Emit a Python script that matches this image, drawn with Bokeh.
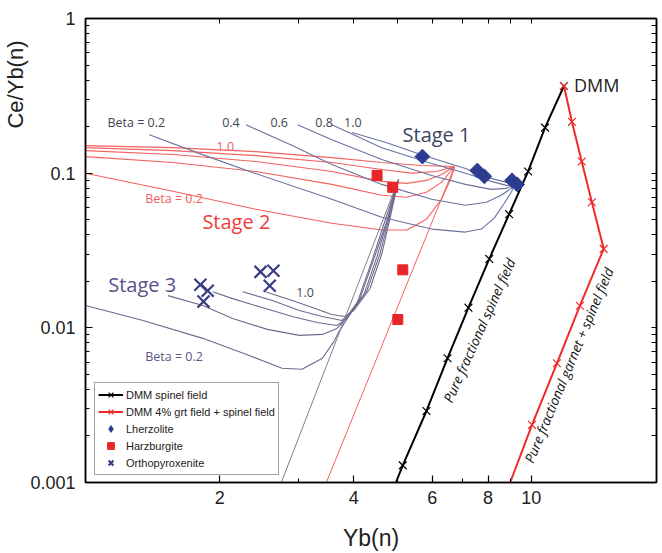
from math import pi
from bokeh.plotting import figure
from bokeh.models import (Range1d, LogAxis, FixedTicker, CustomJSTickFormatter,
                          Label, Legend, LegendItem, Title)
from bokeh.embed import file_html
from bokeh.resources import INLINE

# ---------------- data ----------------
x_tick_values = [2, 4, 6, 8, 10]
x_minor_values = [1, 3, 5, 7, 9]
y_tick_values = [0.001, 0.01, 0.1, 1]
y_minor_values = [m * d for d in (0.001, 0.01, 0.1) for m in range(2, 10)]

# DMM pure fractional melting, spinel field
dmm_spinel_x = [11.84, 10.74, 9.84, 8.92, 8.05, 7.23, 6.49, 5.82, 5.15, 4.97]
dmm_spinel_y = [0.366, 0.197, 0.1026, 0.0543, 0.0279, 0.0135, 0.00636, 0.0029, 0.00129, 0.001]
# DMM 4% garnet field + spinel field
dmm_garnet_x = [11.84, 12.34, 12.98, 13.68, 14.54, 12.86, 11.42, 10.04, 8.97]
dmm_garnet_y = [0.366, 0.2148, 0.1189, 0.0648, 0.0324, 0.0139, 0.0059, 0.00236, 0.001]

# samples
lherzolite_x = [5.70, 7.57, 7.85, 9.06, 9.30]
lherzolite_y = [0.128, 0.104, 0.0953, 0.0898, 0.0846]
harzburgite_x = [4.51, 4.89, 5.15, 5.02]
harzburgite_y = [0.0966, 0.081, 0.0237, 0.01132]
opx_x = [1.81, 1.88, 1.84, 2.47, 2.64, 2.59]
opx_y = [0.019, 0.01738, 0.01478, 0.023, 0.0234, 0.0187]

beta_values = [0.2, 0.4, 0.6, 0.8, 1.0]

# Stage 1 curves (beta 0.2 ... 1.0)
stage1_x = [
    [1.39, 1.83, 2.37, 3.57, 4.62, 5.98, 7.12, 7.73, 8.26, 8.70, 9.02, 9.16],
    [2.29, 2.91, 3.57, 4.62, 5.98, 7.12, 7.93, 8.56, 9.02, 9.16],
    [2.99, 3.57, 4.62, 5.98, 7.12, 8.14, 8.79, 9.16],
    [3.57, 4.62, 5.98, 7.12, 8.14, 8.79, 9.16],
    [3.96, 4.74, 5.74, 7.12, 8.14, 8.79, 9.16],
]
stage1_y = [
    [0.177, 0.1318, 0.101, 0.0678, 0.0519, 0.0435, 0.0416, 0.0435, 0.0512, 0.0639, 0.0752, 0.0834],
    [0.2055, 0.1507, 0.1137, 0.0846, 0.0678, 0.062, 0.0648, 0.0719, 0.0797, 0.0846],
    [0.2055, 0.1646, 0.1225, 0.0966, 0.0846, 0.0786, 0.0797, 0.0846],
    [0.2055, 0.1462, 0.1154, 0.1, 0.0885, 0.0834, 0.0846],
    [0.183, 0.1575, 0.1299, 0.1072, 0.0925, 0.0872, 0.0859],
]

# Stage 2 curves
stage2_x = [
    [1.0, 1.57, 2.41, 3.57, 4.62, 5.26, 5.82, 6.29, 6.62, 6.73],
    [1.0, 1.57, 2.41, 3.57, 4.62, 5.26, 5.82, 6.29, 6.73],
    [1.0, 1.57, 2.41, 3.57, 4.62, 5.26, 5.82, 6.29, 6.73],
    [1.0, 1.57, 2.41, 3.57, 4.62, 5.39, 6.13, 6.73],
    [1.0, 1.57, 2.41, 3.57, 4.62, 5.68, 6.73],
]
stage2_y = [
    [0.1, 0.0763, 0.0585, 0.0475, 0.0429, 0.0429, 0.0504, 0.0678, 0.0938, 0.1104],
    [0.128, 0.1171, 0.1025, 0.0846, 0.0719, 0.0698, 0.0752, 0.0872, 0.1104],
    [0.1399, 0.1319, 0.1189, 0.1025, 0.0885, 0.0859, 0.0898, 0.0981, 0.1104],
    [0.1462, 0.1399, 0.1299, 0.1171, 0.1056, 0.1, 0.1025, 0.1104],
    [0.1506, 0.1462, 0.1378, 0.1261, 0.1171, 0.1121, 0.1104],
]
stage2_path_x = [6.73, 3.47]
stage2_path_y = [0.1104, 0.001]

# Stage 3 curves
stage3_x = [
    [1.0, 1.346, 1.833, 2.29, 2.76, 3.06, 3.40, 3.611, 3.706, 4.064, 4.392, 4.694, 5.04],
    [1.531, 1.833, 2.138, 2.56, 3.017, 3.40, 3.667, 3.76, 4.127, 4.436, 4.742, 5.04],
    [1.929, 2.138, 2.49, 2.91, 3.31, 3.667, 3.862, 4.214, 4.506, 4.767, 5.04],
    [2.251, 2.626, 3.017, 3.40, 3.76, 3.922, 4.28, 4.576, 4.792, 5.04],
    [2.533, 2.91, 3.276, 3.57, 3.822, 4.0, 4.346, 4.62, 4.817, 5.04],
]
stage3_y = [
    [0.01393, 0.01115, 0.00855, 0.00675, 0.00548, 0.0054, 0.00636, 0.00818, 0.00948, 0.01435, 0.0271, 0.0489, 0.0911],
    [0.01615, 0.01393, 0.01149, 0.00977, 0.00894, 0.00907, 0.00991, 0.01067, 0.01545, 0.0279, 0.0489, 0.0911],
    [0.01713, 0.01545, 0.01352, 0.01184, 0.01083, 0.01036, 0.01149, 0.01639, 0.02874, 0.0504, 0.0911],
    [0.01713, 0.015, 0.01294, 0.01184, 0.01115, 0.01238, 0.01739, 0.0300, 0.0504, 0.0911],
    [0.01713, 0.015, 0.01333, 0.01219, 0.01184, 0.01294, 0.0179, 0.0300, 0.0504, 0.0911],
]
stage3_path_x = [5.04, 2.75]
stage3_path_y = [0.0911, 0.001]

# ---------------- figure ----------------
p = figure(width=662, height=553, x_axis_type="log", y_axis_type="log",
           x_range=Range1d(1, 19.1), y_range=Range1d(0.001, 1),
           output_backend="svg", toolbar_location=None,
           min_border_left=83, min_border_right=6, min_border_top=18, min_border_bottom=68)
p.background_fill_color = "white"
p.border_fill_color = "white"
p.xgrid.visible = False
p.ygrid.visible = False
p.outline_line_color = "black"
p.outline_line_width = 1.5

fmt = CustomJSTickFormatter(code="return tick.toString();")
TICK_FONT = "Liberation Sans"


def style_axis(ax):
    ax.axis_line_color = "black"
    ax.axis_line_width = 1.5
    ax.major_tick_in = 7
    ax.major_tick_out = 0
    ax.minor_tick_in = 4
    ax.minor_tick_out = 0
    ax.major_tick_line_color = "black"
    ax.minor_tick_line_color = "black"
    ax.major_tick_line_width = 1.2
    ax.minor_tick_line_width = 1
    ax.major_label_text_font = TICK_FONT
    ax.major_label_text_font_size = "18px"
    ax.major_label_text_color = "#222222"


xa = p.xaxis[0]
xa.ticker = FixedTicker(ticks=x_tick_values, minor_ticks=x_minor_values)
xa.formatter = fmt
style_axis(xa)
xa.major_label_standoff = 8
xa.axis_label = "Yb(n)"
xa.axis_label_text_font = TICK_FONT
xa.axis_label_text_font_size = "23px"
xa.axis_label_text_font_style = "normal"
xa.axis_label_text_color = "#222222"
xa.axis_label_standoff = 18

ya = p.yaxis[0]
ya.ticker = FixedTicker(ticks=y_tick_values, minor_ticks=y_minor_values)
ya.formatter = fmt
style_axis(ya)
ya.major_label_standoff = 10

# tick-only frame axes on top and right (no labels)
top = LogAxis(ticker=FixedTicker(ticks=[], minor_ticks=x_minor_values + x_tick_values))
style_axis(top)
top.minor_tick_in = 5
p.add_layout(top, "above")
right = LogAxis(ticker=FixedTicker(ticks=[], minor_ticks=y_minor_values + y_tick_values))
style_axis(right)
right.minor_tick_in = 5
p.add_layout(right, "right")

# y-axis title near the top like the reference
ytitle = Title(text="Ce/Yb(n)", align="right", offset=22, standoff=0,
               text_font=TICK_FONT, text_font_size="22px", text_font_style="normal",
               text_color="#222222")
p.add_layout(ytitle, "left")

# ---------------- model curves ----------------
S1_COL = "#6a72a0"
S2_COL = "#f3625f"
S3_COL = "#6e6a8e"

p.multi_line(xs=stage2_x, ys=stage2_y, line_color=S2_COL, line_width=1.1)
p.line(stage2_path_x, stage2_path_y, line_color=S2_COL, line_width=1)
p.multi_line(xs=stage1_x, ys=stage1_y, line_color=S1_COL, line_width=1.1)
p.multi_line(xs=stage3_x, ys=stage3_y, line_color=S3_COL, line_width=1.1)
p.line(stage3_path_x, stage3_path_y, line_color="#80808a", line_width=1)

# DMM lines
r_sp_line = p.line(dmm_spinel_x, dmm_spinel_y, line_color="black", line_width=2)
r_sp_mk = p.scatter(dmm_spinel_x[:-1], dmm_spinel_y[:-1], marker="x", size=11,
                    line_color="black", line_width=1.2)
r_gt_line = p.line(dmm_garnet_x, dmm_garnet_y, line_color="#ee2a2a", line_width=2)
r_gt_mk = p.scatter(dmm_garnet_x[:-1], dmm_garnet_y[:-1], marker="x", size=11,
                    line_color="#ee2a2a", line_width=1.2)

# samples
LZ_COL = "#2c3c90"
# diamond glyph (used by the legend) sits beneath the equal-sided diamonds drawn on top
r_lz_key = p.scatter(lherzolite_x, lherzolite_y, marker="diamond", size=12,
                     fill_color=LZ_COL, line_color=LZ_COL)
r_lz = p.scatter(lherzolite_x, lherzolite_y, marker="square", angle=pi / 4, size=10.5,
                 fill_color=LZ_COL, line_color=LZ_COL)
r_hz = p.scatter(harzburgite_x, harzburgite_y, marker="square", size=10,
                 fill_color="#e8262a", line_color="#e8262a")
r_opx = p.scatter(opx_x, opx_y, marker="x", size=17, line_color="#3a3d86", line_width=2.2)

# ---------------- annotations ----------------
ANN_FONT = "Open Sans"
annotations = [
    ("Beta = 0.2", 1.12, 0.2117, "#3f434c", "12.5px", "left", 0, "normal"),
    ("0.4", 2.12, 0.2117, "#3f434c", "12.5px", "center", 0, "normal"),
    ("0.6", 2.72, 0.2117, "#3f434c", "12.5px", "center", 0, "normal"),
    ("0.8", 3.43, 0.2117, "#3f434c", "12.5px", "center", 0, "normal"),
    ("1.0", 3.98, 0.2117, "#3f434c", "12.5px", "center", 0, "normal"),
    ("1.0", 2.06, 0.1484, "#f0605e", "12.5px", "center", 0, "normal"),
    ("Beta = 0.2", 1.58, 0.0688, "#f0605e", "12.5px", "center", 0, "normal"),
    ("Stage 2", 2.18, 0.0489, "#ee3b3b", "20px", "center", 0, "normal"),
    ("Stage 1", 6.13, 0.177, "#3e4560", "20px", "center", 0, "normal"),
    ("Stage 3", 1.34, 0.019, "#5b4f8c", "20px", "center", 0, "normal"),
    ("1.0", 3.11, 0.01689, "#4a4a55", "12.5px", "center", 0, "normal"),
    ("Beta = 0.2", 1.58, 0.00655, "#5d5787", "12.5px", "center", 0, "normal"),
    ("DMM", 12.47, 0.3713, "#222222", "18px", "left", 0, "normal"),
    ("Pure fractional spinel field", 7.65, 0.00962, "#111111", "13.5px", "center", 1.15, "italic"),
    ("Pure fractional garnet + spinel field", 12.15, 0.00573, "#111111", "13.5px", "center", 1.176, "italic"),
]
for text, ax_, ay_, col, fs, align, ang, style in annotations:
    p.add_layout(Label(x=ax_, y=ay_, text=text, text_color=col, text_font=ANN_FONT,
                       text_font_size=fs, text_align=align, text_baseline="middle",
                       angle=ang, text_font_style=style))

# ---------------- legend ----------------
legend = Legend(items=[
    LegendItem(label="DMM spinel field", renderers=[r_sp_line, r_sp_mk]),
    LegendItem(label="DMM 4% grt field + spinel field", renderers=[r_gt_line, r_gt_mk]),
    LegendItem(label="Lherzolite", renderers=[r_lz_key]),
    LegendItem(label="Harzburgite", renderers=[r_hz]),
    LegendItem(label="Orthopyroxenite", renderers=[r_opx]),
], location=(9, 7))
legend.label_text_font = TICK_FONT
legend.label_text_font_size = "11px"
legend.label_text_color = "#222222"
legend.glyph_width = 25
legend.glyph_height = 17
legend.label_height = 17
legend.label_standoff = 3
legend.spacing = 0
legend.padding = 3
legend.margin = 0
legend.border_line_color = "#444444"
legend.border_line_width = 1
legend.background_fill_color = "white"
legend.background_fill_alpha = 1
p.add_layout(legend, "center")

open("out.html", "w").write(file_html(p, INLINE))
